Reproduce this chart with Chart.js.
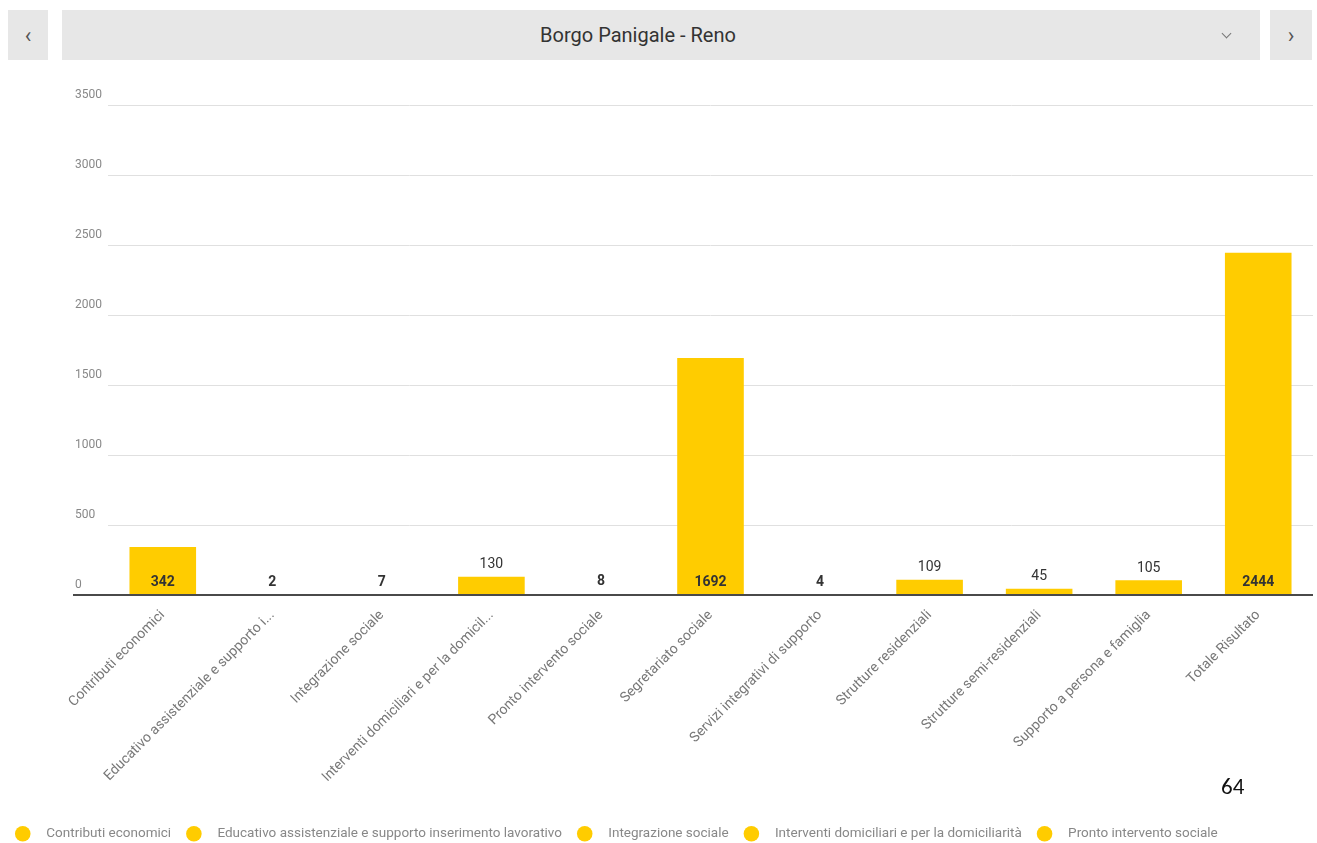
<!DOCTYPE html>
<html lang="it">
<head>
<meta charset="utf-8">
<title>Borgo Panigale - Reno</title>
<script src="https://cdn.jsdelivr.net/npm/chart.js@4.4.1/dist/chart.umd.min.js"></script>
<style>
  html, body { margin: 0; padding: 0; background: #fff; overflow: hidden; width: 1317px; height: 843px; }
  body { position: relative; font-family: Roboto, "Noto Sans", sans-serif; }
  .nav-btn, .area-select {
    position: absolute; top: 10px; height: 50px; background: #e7e7e7;
    display: flex; align-items: center; justify-content: center; color: #555;
  }
  .nav-btn { width: 40px; font-size: 22px; }
  #prevBtn { left: 8px; }
  #nextBtn { left: 1270px; width: 42px; }
  .area-select { left: 62px; width: 1152px; padding-right: 46px; font-size: 20px; color: #333; }
  .area-select .chevron {
    position: absolute; right: 30px; top: 20px; width: 6px; height: 6px;
    border-right: 1.5px solid #777; border-bottom: 1.5px solid #777; transform: rotate(45deg);
  }
  #chartBox { position: absolute; left: 0; top: 66px; width: 1317px; height: 814px; }
  #pageNum { position: absolute; left: 1221px; top: 772px; font-family: Carlito, "Liberation Sans", sans-serif; font-size: 23px; color: #111; }
</style>
</head>
<body>
<div class="nav-btn" id="prevBtn">&#8249;</div>
<div class="area-select">Borgo Panigale - Reno<span class="chevron"></span></div>
<div class="nav-btn" id="nextBtn">&#8250;</div>
<div id="chartBox"><canvas id="serviziChart"></canvas></div>
<div id="pageNum">64</div>

<script>
// ======= Data =======
const categories = [
    'Contributi economici',
    'Educativo assistenziale e supporto inserimento lavorativo',
    'Integrazione sociale',
    'Interventi domiciliari e per la domiciliarità',
    'Pronto intervento sociale',
    'Segretariato sociale',
    'Servizi integrativi di supporto',
    'Strutture residenziali',
    'Strutture semi-residenziali',
    'Supporto a persona e famiglia',
    'Totale Risultato'
];
const tickLabels = [
    'Contributi economici',
    'Educativo assistenziale e supporto i...',
    'Integrazione sociale',
    'Interventi domiciliari e per la domicil...',
    'Pronto intervento sociale',
    'Segretariato sociale',
    'Servizi integrativi di supporto',
    'Strutture residenziali',
    'Strutture semi-residenziali',
    'Supporto a persona e famiglia',
    'Totale Risultato'
];
const values = [342, 2, 7, 130, 8, 1692, 4, 109, 45, 105, 2444];
const yTicks = [0, 500, 1000, 1500, 2000, 2500, 3000, 3500];

const BAR_COLOR = '#ffcc00';
const Y_LABEL_X = 75;   // y tick labels are left-aligned at this x

// ======= Value labels: at the bar foot when the bar is tall, above it otherwise =======
const barValueLabels = {
    id: 'barValueLabels',
    afterDatasetsDraw(chart) {
        const { ctx } = chart;
        const meta = chart.getDatasetMeta(0);
        ctx.save();
        ctx.textAlign = 'center';
        ctx.textBaseline = 'middle';
        ctx.fillStyle = '#333';
        meta.data.forEach((bar, i) => {
            const h = bar.base - bar.y;
            const inside = h > 24;
            const y = inside ? bar.base - 12 : bar.y - 12;
            ctx.font = (inside || h < 3 ? 'bold ' : '') + '14px Roboto';
            ctx.fillText(String(values[i]), bar.x, y);
        });
        ctx.restore();
    }
};

// ======= Dark baseline under the bars, running under the "0" tick too =======
const zeroLine = {
    id: 'zeroLine',
    afterDatasetsDraw(chart) {
        const { ctx, chartArea } = chart;
        const y0 = chart.scales.y.getPixelForValue(0);
        ctx.save();
        ctx.strokeStyle = '#4a4a4a';
        ctx.lineWidth = 2;
        ctx.beginPath();
        ctx.moveTo(Y_LABEL_X - 2, y0);
        ctx.lineTo(chartArea.right, y0);
        ctx.stroke();
        ctx.restore();
    }
};

// ======= Shift the y axis box so its far-aligned labels start at Y_LABEL_X =======
const yLabelShift = {
    id: 'yLabelShift',
    afterLayout(chart) {
        chart.scales.y.left = Y_LABEL_X;
    }
};

// ======= Build chart =======
new Chart(document.getElementById('serviziChart'), {
    type: 'bar',
    data: {
        labels: categories,
        datasets: [{
            label: 'Borgo Panigale - Reno',
            data: values,
            backgroundColor: BAR_COLOR,
            borderWidth: 0,
            categoryPercentage: 0.8,
            barPercentage: 0.76
        }]
    },
    options: {
        responsive: true,
        maintainAspectRatio: false,
        animation: false,
        layout: { padding: { left: 0, right: 4, top: 39, bottom: 0 } },
        plugins: {
            tooltip: { enabled: false },
            legend: {
                position: 'bottom',
                align: 'start',
                labels: {
                    usePointStyle: true,
                    boxHeight: 11,
                    padding: 16,
                    font: { family: 'Roboto', size: 13.5 },
                    color: '#888',
                    generateLabels: () => categories.map((name, i) => ({
                        text: '\u00a0\u00a0\u00a0' + name,
                        fillStyle: BAR_COLOR,
                        strokeStyle: BAR_COLOR,
                        lineWidth: 0,
                        pointStyle: 'circle',
                        fontColor: '#888',
                        hidden: false,
                        index: i
                    }))
                }
            }
        },
        scales: {
            x: {
                grid: { display: false },
                border: { display: false },
                ticks: {
                    autoSkip: false,
                    minRotation: 45,
                    maxRotation: 45,
                    padding: 4,
                    color: '#777',
                    font: { family: 'Roboto', size: 14 },
                    callback: (v, i) => tickLabels[i]
                },
                afterFit: scale => { scale.height = 216; }
            },
            y: {
                min: 0,
                max: 3500,
                afterBuildTicks: scale => { scale.ticks = yTicks.map(v => ({ value: v })); },
                afterFit: scale => { scale.width = 108; },
                grid: { color: '#e0e0e0', lineWidth: 1, drawTicks: false },
                border: { display: false },
                ticks: {
                    crossAlign: 'far',
                    padding: 10,
                    labelOffset: -10,
                    color: '#888',
                    font: { family: 'Roboto', size: 12 },
                    callback: v => String(v)
                }
            }
        }
    },
    plugins: [yLabelShift, zeroLine, barValueLabels]
});
</script>
</body>
</html>
